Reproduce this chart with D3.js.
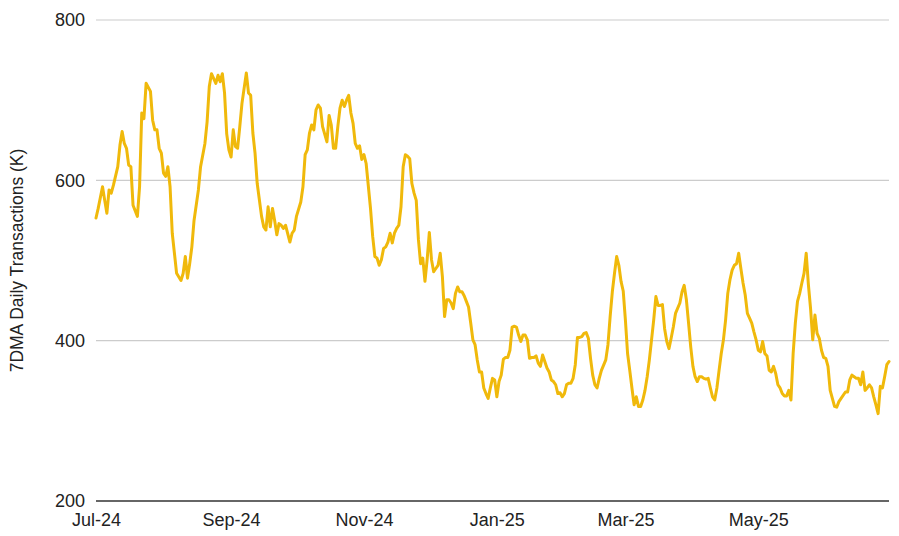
<!DOCTYPE html>
<html>
<head>
<meta charset="utf-8">
<script src="https://cdn.jsdelivr.net/npm/d3@7"></script>
<style>
  html, body { margin: 0; padding: 0; background: #fff; }
  svg { display: block; font-family: "Liberation Sans", Arial, sans-serif; }
</style>
</head>
<body>
<svg id="chart" width="899" height="536"></svg>
<script>
// ---- Data ----
const startDate = "2024-07-01";
const endDate = "2025-06-30";
const dayOffsets = [0,1,3,4,5,6,7,8,10,11,12,13,14,15,16,17,19,20,21,22,23,25,26,27,28,29,30,31,32,33,34,35,37,39,40,41,42,43,44,45,47,48,50,51,52,53,55,56,57,58,59,60,61,62,63,64,65,66,67,69,70,71,72,73,74,76,77,78,79,80,81,82,83,84,85,86,87,89,90,91,92,94,95,96,97,98,99,100,101,102,103,104,106,107,108,109,110,111,112,113,114,115,116,117,118,119,120,121,122,123,124,126,127,128,129,130,131,132,133,134,135,136,137,138,139,140,141,142,143,144,145,146,147,148,149,150,151,152,153,154,155,156,157,158,159,160,161,162,163,164,165,166,167,168,169,170,171,172,173,174,175,176,177,178,179,180,181,182,183,184,185,186,187,188,189,190,191,192,193,194,195,196,197,198,199,200,201,202,203,204,205,206,207,208,209,210,211,212,213,214,215,216,217,218,219,220,221,222,223,224,225,226,227,228,229,230,231,232,234,235,236,237,238,239,240,241,242,243,244,245,246,247,248,249,250,251,252,253,254,255,256,257,258,259,260,261,262,263,264,265,266,268,269,270,271,272,273,274,275,276,277,278,279,280,281,282,283,284,285,286,287,288,289,290,291,292,293,294,295,296,297,298,299,300,301,302,303,304,305,306,307,308,309,310,311,312,313,314,315,316,317,318,319,320,321,322,323,324,325,326,327,328,329,330,331,332,333,334,335,336,337,338,339,340,341,342,344,345,346,347,348,349,350,351,352,353,354,355,356,357,358,359,360,361,362,363,364];
const values = [553,565,592,575,559,588,584,594,617,644,661,646,640,619,617,569,555,592,684,677,721,711,675,663,663,640,634,609,605,617,592,534,484,475,484,505,478,496,517,550,588,617,646,673,717,733,721,731,723,733,709,658,638,629,663,642,640,667,696,734,709,706,659,634,596,555,542,538,567,542,565,550,532,546,544,540,544,523,534,538,555,573,592,632,638,659,669,663,688,694,690,667,648,681,669,640,640,667,690,700,692,700,706,684,671,646,640,643,626,632,621,565,530,505,503,494,501,515,517,523,534,522,534,540,544,567,617,632,630,627,596,584,575,526,496,503,474,501,535,501,486,490,494,509,480,430,451,451,447,440,459,467,461,461,456,449,442,422,401,395,376,361,361,341,334,328,341,353,351,330,349,357,377,379,379,388,417,418,417,407,399,407,407,401,378,379,379,381,372,368,382,374,366,361,351,349,345,334,335,330,334,345,347,347,353,370,404,404,405,409,410,403,378,357,345,341,353,363,376,395,430,461,484,505,494,474,462,426,384,363,341,320,330,318,318,326,338,355,376,401,426,455,444,444,445,415,399,390,403,417,434,447,461,469,451,422,392,368,355,349,355,355,353,352,353,341,330,326,341,363,384,401,426,459,476,488,494,496,509,490,472,457,434,428,422,411,401,388,386,399,384,381,363,361,368,359,345,341,334,331,331,338,326,384,422,449,459,472,484,509,470,440,401,432,409,403,388,379,378,368,338,328,318,317,324,328,336,336,351,357,355,353,353,345,361,338,341,345,341,330,320,309,343,341,355,370,374];
const xTickDates = ["2024-07-01","2024-09-01","2024-11-01","2025-01-01","2025-03-01","2025-05-01"];
const yTicks = [200,400,600,800];
const yTitle = "7DMA Daily Transactions (K)";

// ---- Build ----
const parse = d3.utcParse("%Y-%m-%d");
const start = parse(startDate);
const n = Math.min(dayOffsets.length, values.length);
const data = d3.range(n).map(i => ({ date: d3.utcDay.offset(start, dayOffsets[i]), value: values[i] }));

const svg = d3.select("#chart");
const pLeft = 96, pRight = 889, pTop = 20, pBottom = 501;

const x = d3.scaleUtc().domain([start, parse(endDate)]).range([pLeft, pRight]);
const y = d3.scaleLinear().domain([200, 800]).range([pBottom, pTop]);

// gridlines
svg.append("g")
  .selectAll("line")
  .data(yTicks.filter(t => t !== 200))
  .join("line")
  .attr("x1", pLeft).attr("x2", pRight)
  .attr("y1", d => y(d)).attr("y2", d => y(d))
  .attr("stroke", "#cccccc").attr("stroke-width", 1.2);

// y axis labels
const yAxis = d3.axisLeft(y).tickValues(yTicks).tickSize(0).tickPadding(11).tickFormat(d3.format("d"));
const gy = svg.append("g").attr("transform", `translate(${pLeft},0)`).call(yAxis);
gy.select(".domain").remove();
gy.selectAll("text").attr("font-size", 18).attr("fill", "#222").attr("font-family", "Liberation Sans, Arial, sans-serif");

// x axis
const xAxis = d3.axisBottom(x).tickValues(xTickDates.map(parse)).tickSize(0).tickPadding(12).tickFormat(d3.utcFormat("%b-%y"));
const gx = svg.append("g").attr("transform", `translate(0,${pBottom})`).call(xAxis);
gx.select(".domain").remove();
gx.selectAll("text").attr("font-size", 18).attr("fill", "#222").attr("font-family", "Liberation Sans, Arial, sans-serif");

// baseline
svg.append("line")
  .attr("x1", pLeft).attr("x2", pRight)
  .attr("y1", y(200)).attr("y2", y(200))
  .attr("stroke", "#333").attr("stroke-width", 1.6);

// line
const line = d3.line().x(d => x(d.date)).y(d => y(d.value));
svg.append("path")
  .datum(data)
  .attr("d", line)
  .attr("fill", "none")
  .attr("stroke", "#F0B90B")
  .attr("stroke-width", 3)
  .attr("stroke-linejoin", "round")
  .attr("stroke-linecap", "round");

// y title
svg.append("text")
  .attr("transform", `translate(23,${(pTop + pBottom) / 2}) rotate(-90)`)
  .attr("text-anchor", "middle")
  .attr("font-size", 17.5)
  .attr("fill", "#222")
  .text(yTitle);
</script>
</body>
</html>
